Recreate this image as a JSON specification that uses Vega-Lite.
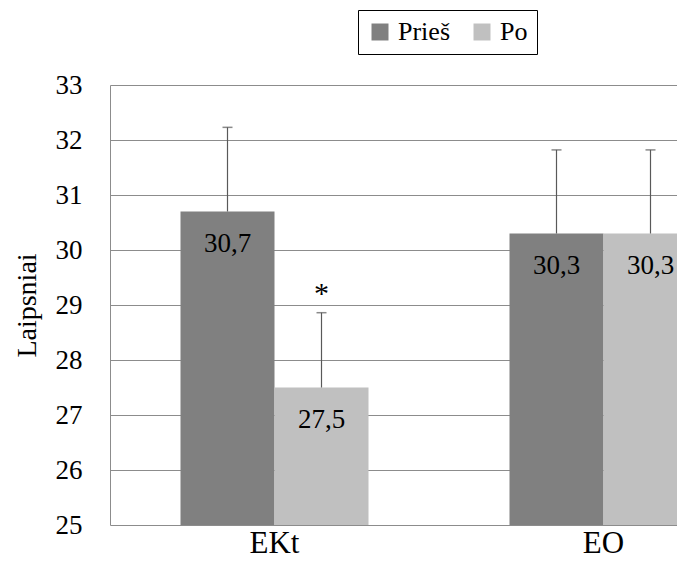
{
  "$schema": "https://vega.github.io/schema/vega-lite/v6.json",
  "autosize": "none",
  "width": 567,
  "height": 440,
  "padding": {"left": 110, "top": 85, "right": 0, "bottom": 36},
  "background": "white",
  "config": {
    "font": "'Liberation Serif', 'Times New Roman', serif",
    "view": {"stroke": null}
  },
  "data": {
    "values": [
      {"grupe": "EKt", "laikas": "Prieš", "reiksme": 30.7, "virsus": 32.23, "zyma": "30,7", "sig": ""},
      {"grupe": "EKt", "laikas": "Po", "reiksme": 27.5, "virsus": 28.86, "zyma": "27,5", "sig": "*"},
      {"grupe": "EO", "laikas": "Prieš", "reiksme": 30.3, "virsus": 31.82, "zyma": "30,3", "sig": ""},
      {"grupe": "EO", "laikas": "Po", "reiksme": 30.3, "virsus": 31.82, "zyma": "30,3", "sig": ""}
    ]
  },
  "encoding": {
    "x": {
      "field": "grupe",
      "type": "nominal",
      "sort": ["EKt", "EO"],
      "scale": {"range": [0, 658], "paddingInner": 0, "paddingOuter": 0},
      "axis": {
        "title": null,
        "domain": false,
        "ticks": false,
        "labelAngle": 0,
        "labelFontSize": 31,
        "labelColor": "black",
        "labelPadding": 3
      }
    },
    "xOffset": {
      "field": "laikas",
      "type": "nominal",
      "sort": ["Prieš", "Po"],
      "scale": {"paddingInner": 0, "paddingOuter": 0.75}
    }
  },
  "layer": [
    {
      "mark": {"type": "bar"},
      "encoding": {
        "y": {
          "field": "reiksme",
          "type": "quantitative",
          "scale": {"domain": [25, 33], "nice": false, "zero": false},
          "axis": {
            "title": "Laipsniai",
            "titleFontSize": 28,
            "titleFontWeight": "normal",
            "titleColor": "black",
            "titlePadding": 14,
            "values": [25, 26, 27, 28, 29, 30, 31, 32, 33],
            "ticks": false,
            "labelPadding": 28,
            "labelFontSize": 27,
            "labelColor": "black",
            "domainColor": "#8c8c8c",
            "gridColor": "#8c8c8c",
            "grid": true,
            "labelFlush": false
          }
        },
        "y2": {"datum": 25},
        "color": {
          "field": "laikas",
          "type": "nominal",
          "sort": ["Prieš", "Po"],
          "scale": {"domain": ["Prieš", "Po"], "range": ["#808080", "#c0c0c0"]},
          "legend": {
            "title": null,
            "orient": "none",
            "legendX": 248,
            "legendY": -75,
            "direction": "horizontal",
            "symbolType": "square",
            "symbolSize": 289,
            "symbolStrokeWidth": 0,
            "labelFontSize": 26,
            "labelColor": "black",
            "columnPadding": 19,
            "labelOffset": 5,
            "padding": 9,
            "strokeColor": "black",
            "fillColor": "white"
          }
        }
      }
    },
    {
      "mark": {"type": "rule", "color": "#595959", "strokeWidth": 1.2},
      "encoding": {
        "y": {"field": "reiksme", "type": "quantitative"},
        "y2": {"field": "virsus"}
      }
    },
    {
      "mark": {"type": "tick", "color": "#595959", "size": 10, "thickness": 1.5, "orient": "horizontal"},
      "encoding": {
        "y": {"field": "virsus", "type": "quantitative"}
      }
    },
    {
      "mark": {"type": "text", "baseline": "alphabetic", "dy": 40, "fontSize": 27, "color": "black"},
      "encoding": {
        "y": {"field": "reiksme", "type": "quantitative"},
        "text": {"field": "zyma"}
      }
    },
    {
      "mark": {"type": "text", "baseline": "alphabetic", "dy": -10, "fontSize": 30, "color": "black"},
      "encoding": {
        "y": {"field": "virsus", "type": "quantitative"},
        "text": {"field": "sig"}
      }
    }
  ]
}
